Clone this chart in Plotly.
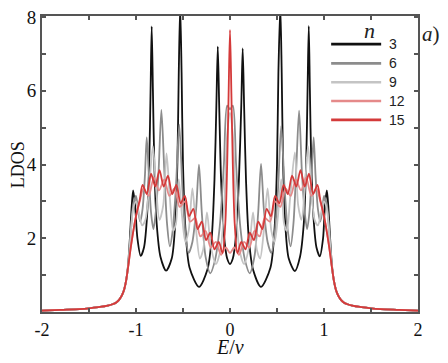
import plotly.graph_objects as go

# --- data (E/v, LDOS) ---
tail_left_e = [-2.0, -1.8, -1.6, -1.5, -1.4, -1.3, -1.25, -1.21, -1.18, -1.15, -1.125, -1.105]
tail_left_y = [0.04, 0.06, 0.08, 0.10, 0.13, 0.17, 0.21, 0.26, 0.33, 0.45, 0.62, 0.85]
tail_right_e = [1.105, 1.125, 1.15, 1.18, 1.21, 1.25, 1.3, 1.4, 1.5, 1.6, 1.8, 2.0]
tail_right_y = [0.85, 0.62, 0.45, 0.33, 0.26, 0.21, 0.17, 0.13, 0.10, 0.08, 0.06, 0.04]

# n = 3
n3_e = [-1.085, -1.065, -1.045, -1.03, -1.01, -0.985, -0.95, -0.915, -0.885, -0.86, -0.845, -0.833, -0.82, -0.805,
        -0.78, -0.74, -0.68, -0.62, -0.585, -0.56, -0.545, -0.53, -0.515, -0.50, -0.475, -0.43, -0.33, -0.24,
        -0.195, -0.165, -0.145, -0.13, -0.115, -0.095, -0.065, -0.03, 0.0,
        0.03, 0.065, 0.095, 0.12, 0.135, 0.15, 0.17, 0.20, 0.245, 0.33, 0.43, 0.475, 0.50, 0.515, 0.535, 0.55,
        0.565, 0.59, 0.625, 0.69, 0.745, 0.785, 0.81, 0.825, 0.838, 0.85, 0.865, 0.89, 0.92, 0.955, 0.99,
        1.01, 1.03, 1.045, 1.065, 1.085]
n3_y = [1.25, 2.0, 2.9, 3.3, 2.9, 2.0, 1.52, 1.75, 2.5, 4.0, 6.0, 7.75, 6.0, 4.0,
        2.4, 1.5, 1.12, 1.45, 2.3, 4.0, 6.5, 8.3, 6.5, 4.0, 2.3, 1.2, 0.68, 1.15,
        2.0, 3.6, 5.6, 7.2, 5.6, 3.6, 2.1, 1.45, 1.3,
        1.45, 2.1, 3.6, 5.6, 7.15, 5.6, 3.6, 2.0, 1.15, 0.68, 1.2, 2.3, 4.0, 6.5, 8.3, 6.5,
        4.0, 2.3, 1.45, 1.11, 1.5, 2.4, 4.0, 6.0, 7.76, 6.0, 4.0, 2.5, 1.75, 1.51, 2.0,
        2.9, 3.3, 2.9, 2.0, 1.25]

# n = 6
n6_e = [-1.085, -1.06, -1.03, -1.0, -0.975, -0.955, -0.93, -0.905, -0.886, -0.865, -0.84, -0.815, -0.79, -0.76,
        -0.73, -0.70, -0.67, -0.64, -0.61, -0.575, -0.54, -0.505, -0.47, -0.44, -0.40, -0.36, -0.33, -0.30,
        -0.26, -0.21, -0.16, -0.11, -0.065, -0.03, 0.0,
        0.03, 0.065, 0.11, 0.16, 0.21, 0.26, 0.30, 0.33, 0.36, 0.40, 0.44, 0.47, 0.51, 0.545, 0.58, 0.615,
        0.645, 0.675, 0.705, 0.735, 0.765, 0.795, 0.82, 0.845, 0.87, 0.89, 0.91, 0.935, 0.96, 0.98, 1.0,
        1.03, 1.06, 1.085]
n6_y = [1.2, 2.0, 2.9, 3.15, 2.7, 2.45, 2.8, 3.7, 4.74, 3.8, 2.7, 2.25, 2.7, 3.8,
        5.48, 3.9, 2.4, 1.78, 2.2, 3.4, 5.08, 3.3, 2.0, 1.6, 1.9, 2.8, 4.0, 2.7,
        1.5, 1.05, 1.4, 2.3, 4.0, 5.6, 5.5,
        5.6, 4.0, 2.3, 1.4, 1.05, 1.5, 2.7, 4.02, 2.8, 1.9, 1.6, 2.0, 3.3, 5.05, 3.4, 2.2,
        1.78, 2.4, 3.9, 5.46, 3.8, 2.7, 2.25, 2.7, 3.8, 4.74, 3.7, 2.8, 2.45, 2.7, 3.15,
        2.9, 2.0, 1.2]

# n = 9
n9_e = [-1.085, -1.06, -1.03, -1.0, -0.97, -0.935, -0.90, -0.86, -0.82, -0.785, -0.75, -0.71, -0.675, -0.64,
        -0.605, -0.575, -0.545, -0.51, -0.475, -0.44, -0.40, -0.36, -0.32, -0.285, -0.245, -0.205, -0.15,
        -0.10, -0.06, -0.03, 0.0,
        0.03, 0.06, 0.10, 0.15, 0.205, 0.245, 0.285, 0.32, 0.36, 0.40, 0.44, 0.475, 0.51, 0.545, 0.575,
        0.605, 0.64, 0.69, 0.725, 0.76, 0.795, 0.83, 0.865, 0.90, 0.935, 0.97, 1.0, 1.03, 1.06, 1.085]
n9_y = [1.2, 2.0, 2.8, 3.0, 2.7, 2.35, 2.5, 3.4, 4.5, 3.3, 2.5, 2.9, 4.3, 3.1,
        2.2, 2.4, 3.6, 2.6, 1.9, 2.2, 3.35, 2.2, 1.45, 1.7, 2.7, 1.8, 1.3,
        1.7, 3.0, 4.8, 5.4,
        4.8, 3.0, 1.7, 1.3, 1.8, 2.7, 1.7, 1.45, 2.2, 3.35, 2.2, 1.9, 2.6, 3.6, 2.4,
        2.2, 3.1, 4.33, 2.9, 2.5, 3.3, 4.5, 3.4, 2.5, 2.35, 2.7, 3.0, 2.8, 2.0, 1.2]

# n = 12
n12_e = [-1.085, -1.05, -1.0, -0.96, -0.92, -0.865, -0.81, -0.755, -0.70, -0.645, -0.59, -0.535, -0.48,
         -0.425, -0.37, -0.315, -0.26, -0.205, -0.15, -0.095, -0.045, 0.0,
         0.045, 0.095, 0.15, 0.205, 0.26, 0.315, 0.37, 0.425, 0.48, 0.535, 0.59, 0.645, 0.70, 0.755, 0.81,
         0.865, 0.92, 0.96, 1.0, 1.05, 1.085]
n12_y = [1.2, 1.85, 2.6, 3.0, 3.35, 3.15, 3.65, 3.3, 3.6, 3.15, 3.35, 2.85, 3.0,
         2.45, 2.55, 2.05, 2.2, 1.75, 1.9, 1.55, 1.75, 1.6,
         1.75, 1.55, 1.9, 1.75, 2.2, 2.05, 2.55, 2.45, 3.0, 2.85, 3.35, 3.15, 3.6, 3.3, 3.65,
         3.15, 3.35, 3.0, 2.6, 1.85, 1.2]

# n = 15
n15_e = [-1.085, -1.05, -1.0, -0.96, -0.93, -0.885, -0.84, -0.795, -0.75, -0.705, -0.66, -0.615, -0.57,
         -0.525, -0.48, -0.435, -0.39, -0.345, -0.30, -0.255, -0.21, -0.165, -0.12, -0.08, -0.05, -0.03,
         -0.015, 0.0,
         0.015, 0.03, 0.05, 0.08, 0.12, 0.165, 0.21, 0.255, 0.30, 0.345, 0.39, 0.435, 0.48, 0.525, 0.57,
         0.615, 0.66, 0.705, 0.75, 0.795, 0.84, 0.885, 0.93, 0.96, 1.0, 1.05, 1.085]
n15_y = [1.2, 1.85, 2.6, 3.05, 3.45, 3.2, 3.75, 3.4, 3.85, 3.4, 3.7, 3.2, 3.45,
         2.95, 3.15, 2.6, 2.8, 2.25, 2.45, 1.95, 2.15, 1.7, 1.9, 1.6, 2.4, 4.0,
         5.9, 7.65,
         5.9, 4.0, 2.4, 1.6, 1.9, 1.7, 2.15, 1.95, 2.45, 2.25, 2.8, 2.6, 3.15, 2.95, 3.45,
         3.2, 3.7, 3.4, 3.85, 3.4, 3.75, 3.2, 3.45, 3.05, 2.6, 1.85, 1.2]

labels = ["3", "6", "9", "12", "15"]
colors = ["#111111", "#8c8c8c", "#c4c4c4", "#e58a8a", "#d43a3a"]
series = [(n3_e, n3_y), (n6_e, n6_y), (n9_e, n9_y), (n12_e, n12_y), (n15_e, n15_y)]

fig = go.Figure()
for (e, y), lab, col in zip(series, labels, colors):
    fig.add_trace(go.Scatter(
        x=tail_left_e + e + tail_right_e,
        y=tail_left_y + y + tail_right_y,
        mode="lines", name=lab, showlegend=False,
        line=dict(color=col, width=1.8, shape="spline", smoothing=0.8),
    ))

# hand-made legend (long line samples like the original)
x0, x1 = 0.769, 0.902
leg_y = [0.905, 0.840, 0.776, 0.713, 0.649]
for lab, col, yy in zip(labels, colors, leg_y):
    fig.add_shape(type="line", xref="paper", yref="paper", x0=x0, x1=x1, y0=yy, y1=yy,
                  line=dict(color=col, width=2.6))
    fig.add_annotation(xref="paper", yref="paper", x=0.918, y=yy, text=lab, showarrow=False,
                       xanchor="left", yanchor="middle",
                       font=dict(family="Liberation Sans", size=14, color="#222"))
fig.add_annotation(xref="paper", yref="paper", x=0.872, y=0.95, text="<i>n</i>", showarrow=False,
                   xanchor="center", yanchor="middle",
                   font=dict(family="Liberation Serif", size=22, color="#222"))
fig.add_annotation(xref="paper", yref="paper", x=1.035, y=0.94, text="<i>a</i>)", showarrow=False,
                   xanchor="center", yanchor="middle",
                   font=dict(family="Liberation Serif", size=21, color="#222"))

# axis titles
fig.add_annotation(xref="paper", yref="paper", x=0.5, y=-0.118, text="<i>E</i>/<i>v</i>", showarrow=False,
                   xanchor="center", yanchor="middle",
                   font=dict(family="Liberation Serif", size=20, color="#111"))
fig.add_annotation(xref="paper", yref="paper", x=-0.063, y=0.497, text="LDOS", showarrow=False,
                   textangle=-90, xanchor="center", yanchor="middle",
                   font=dict(family="Liberation Serif", size=18, color="#111"))

axis_line = dict(showline=True, linecolor="#555", linewidth=2, mirror="allticks",
                 ticks="inside", ticklen=4, tickcolor="#555", tickwidth=1.5,
                 showgrid=False, zeroline=False, automargin=False,
                 ticklabeloverflow="allow")

fig.update_xaxes(range=[-2, 2],
                 tickvals=[-2, -1.5, -1, -0.5, 0, 0.5, 1, 1.5, 2],
                 ticktext=["-2", "", "-1", "", "0", "", "1", "", "2"],
                 tickfont=dict(family="Liberation Serif", size=18, color="#111"),
                 **axis_line)
fig.update_yaxes(range=[0, 8.03],
                 tickvals=[1, 2, 3, 4, 5, 6, 7, 8],
                 ticktext=["", "2", "", "4", "", "6", "", "8"],
                 tickfont=dict(family="Liberation Serif", size=19, color="#111"),
                 **axis_line)

# the page adds an 8px body margin, so the figure is shifted in the window
fig.update_layout(width=448, height=363,
                  margin=dict(l=34, r=38, t=8, b=59),
                  plot_bgcolor="white", paper_bgcolor="white")

fig.write_html("out.html")
